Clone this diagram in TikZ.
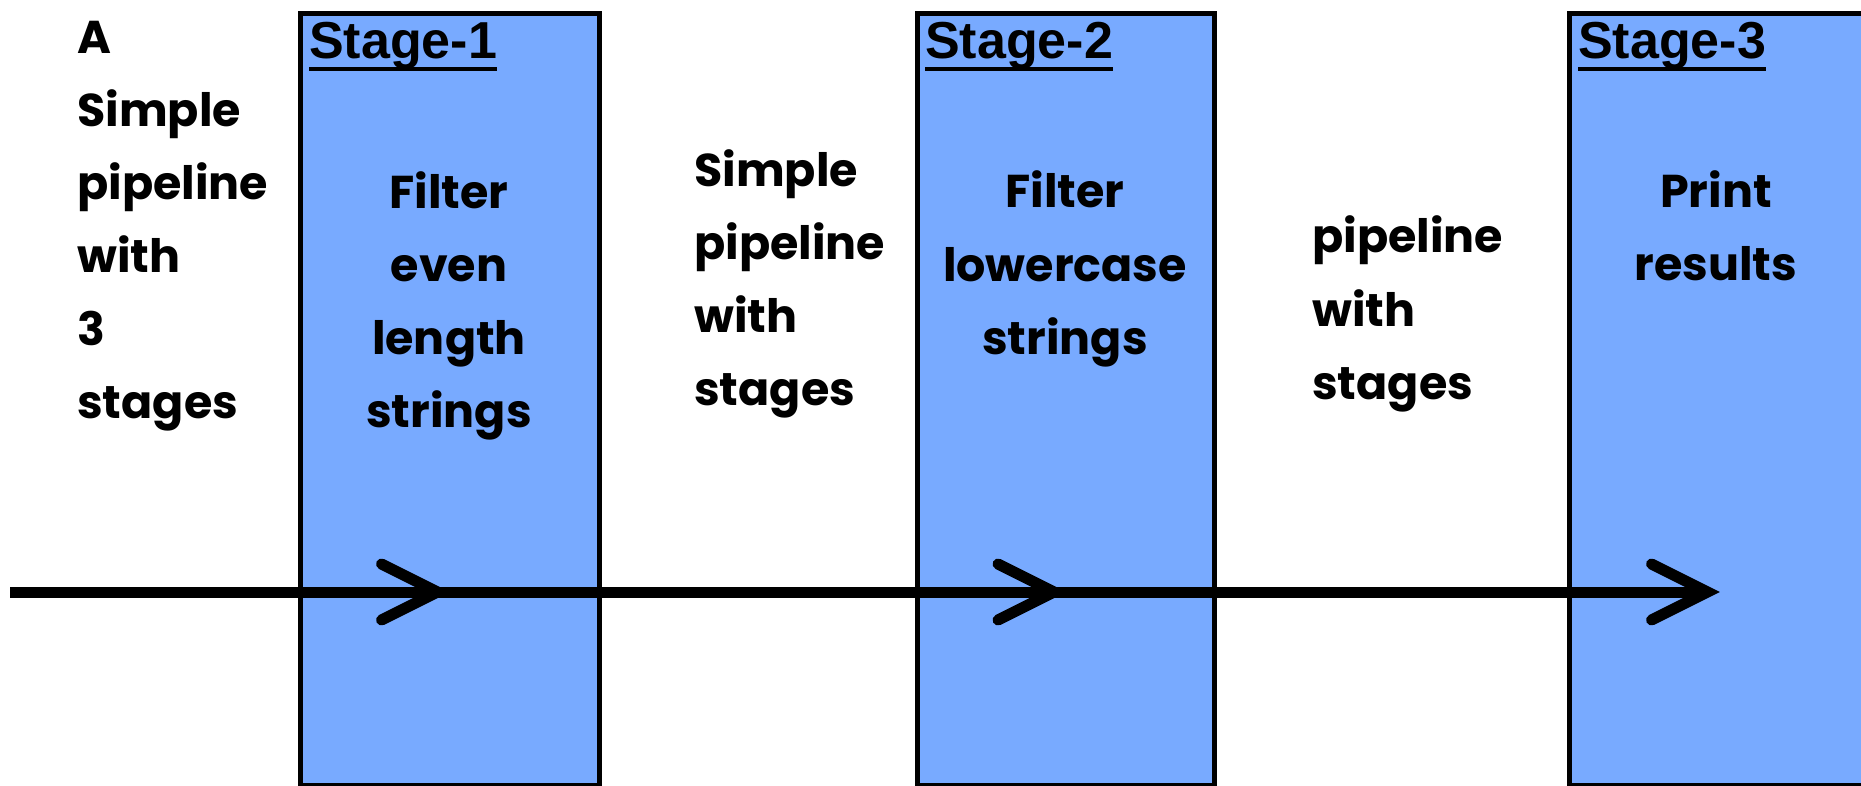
\documentclass[tikz,border=0pt]{standalone}
\usepackage{fontspec}
\setmainfont{Liberation Sans}
\newfontfamily\hdrf{Liberation Sans Bold}
\newfontfamily\comicf{Poppins}
\definecolor{boxblue}{RGB}{120,170,255}
\begin{document}
\begin{tikzpicture}[x=1pt,y=-1pt,
  stagebox/.style={draw=black, line width=5pt, fill=boxblue, inner sep=0pt, anchor=north west},
  body/.style={font=\comicf\bfseries\fontsize{46}{73}\selectfont, inner sep=0pt, align=center, anchor=base},
  bodyl/.style={font=\comicf\bfseries\fontsize{46}{73}\selectfont, inner sep=0pt, align=left, anchor=base west},
  hdr/.style={font=\hdrf\fontsize{52}{60}\selectfont, inner sep=0pt, anchor=base west},
  uline/.style={line width=4pt},
  flow/.style={line width=11pt},
  chev/.style={line width=11pt, line cap=round, line join=miter}
]
\useasboundingbox[fill=white] (0,0) rectangle (1861,786);
% stage boxes
\node[stagebox, minimum width=299pt, minimum height=772pt] (s1) at (297.5,11) {};
\node[stagebox, minimum width=297pt, minimum height=772pt] (s2) at (915,11) {};
\node[stagebox, minimum width=300pt, minimum height=772pt] (s3) at (1567,11) {};
% headers
\node[hdr] (h1) at (309,59) {Stage-1};
\node[hdr] (h2) at (925,59) {Stage-2};
\node[hdr] (h3) at (1578,59) {Stage-3};
\foreach \h in {h1,h2,h3}{
  \draw[uline] ([yshift=-10pt]\h.base west) -- ([yshift=-10pt]\h.base east);
}
% texts (base anchor = baseline of the last line)
\node[bodyl] (lt) at (77,418) {A\\Simple\\pipeline\\with\\3\\stages};
\node[body] (b1) at (449,427) {Filter\\even\\length\\strings};
\node[bodyl] (m1) at (694,405) {Simple\\pipeline\\with\\stages};
\node[body] (b2) at (1065,354) {Filter\\lowercase\\strings};
\node[bodyl] (m2) at (1312,399) {pipeline\\with\\stages};
\node[body] (b3) at (1716,281) {Print\\results};
% flow
\coordinate (in) at (10,592);
\path (s1.center |- in) ++(-12,0) coordinate (t1);
\path (s2.center |- in) ++(-12,0) coordinate (t2);
\path (s3.center |- in) ++(-12,0) coordinate (t3);
\draw[flow] (in) -- (t1);
\draw[flow] (t1) -- (t2);
\draw[flow] (t2) -- (t3);
\foreach \t in {t1,t2,t3}{
  \draw[chev] ([shift={(-56,-28)}]\t) -- (\t) -- ([shift={(-56,28)}]\t);
}
\end{tikzpicture}
\end{document}
